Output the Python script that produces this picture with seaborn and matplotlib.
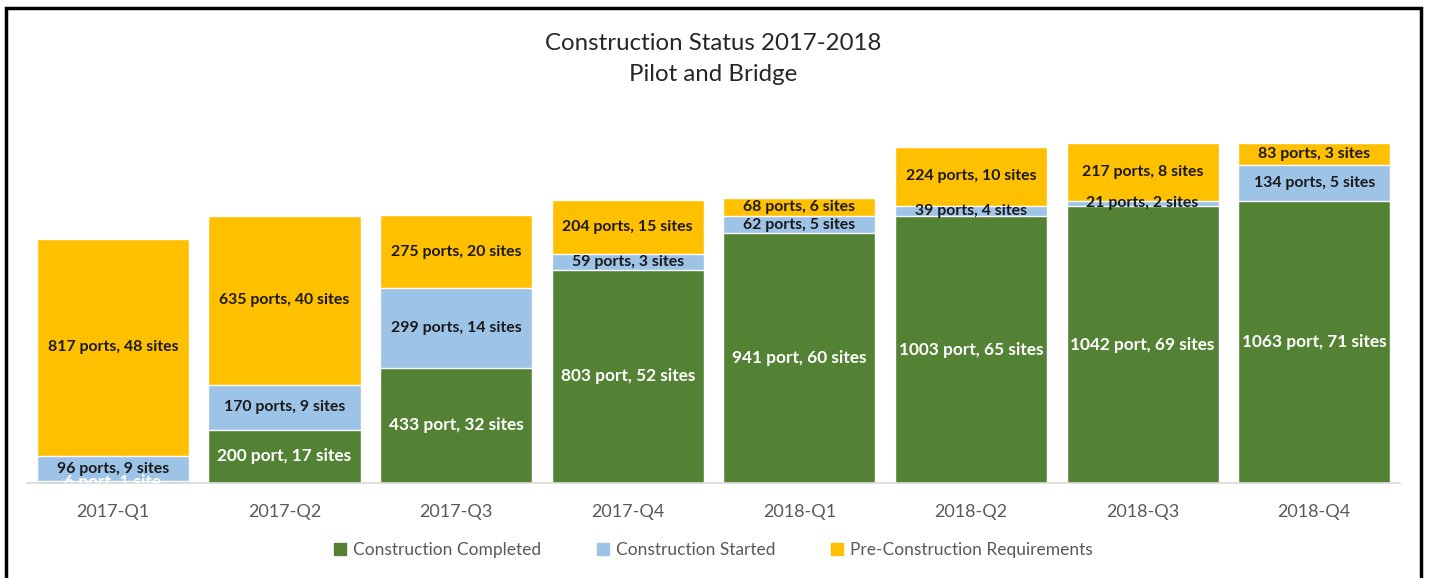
import seaborn as sns
import matplotlib.pyplot as plt
import matplotlib.patches as mpatches
import pandas as pd
import numpy as np

# Datos
quarters = ['2017-Q1', '2017-Q2', '2017-Q3', '2017-Q4', '2018-Q1', '2018-Q2', '2018-Q3', '2018-Q4']
completed_ports = [6, 200, 433, 803, 941, 1003, 1042, 1063]
completed_sites = [1, 17, 32, 52, 60, 65, 69, 71]
started_ports = [96, 170, 299, 59, 62, 39, 21, 134]
started_sites = [9, 9, 14, 3, 5, 4, 2, 5]
pre_ports = [817, 635, 275, 204, 68, 224, 217, 83]
pre_sites = [48, 40, 20, 15, 6, 10, 8, 3]

series = ['Construction Completed', 'Construction Started', 'Pre-Construction Requirements']
colores = ['#548235', '#9DC3E6', '#FFC000']

df = pd.DataFrame({'quarter': quarters,
                   'completed': completed_ports,
                   'started': started_ports,
                   'pre': pre_ports})
df['cum_started'] = df['completed'] + df['started']
df['total'] = df['cum_started'] + df['pre']

sns.set_style('white')
plt.rcParams['font.family'] = ['Lato', 'DejaVu Sans']

fig = plt.figure(figsize=(14.32, 5.78), dpi=100)
ax = fig.add_axes([0.0189, 0.1644, 0.9588, 0.6436])

# barras apiladas: primero el total, luego encima las capas inferiores
w = 0.886
sns.barplot(x='quarter', y='total', data=df, color=colores[2], width=w, saturation=1, ax=ax)
sns.barplot(x='quarter', y='cum_started', data=df, color=colores[1], width=w, saturation=1, ax=ax)
sns.barplot(x='quarter', y='completed', data=df, color=colores[0], width=w, saturation=1, ax=ax)

ax.set_ylim(0, 1400)
ax.set_xlim(-0.5, 7.5)
ax.set_xlabel('')
ax.set_ylabel('')
ax.set_yticks([])
for s in ['top', 'right', 'left']:
    ax.spines[s].set_visible(False)
ax.spines['bottom'].set_color('#D9D9D9')
ax.spines['bottom'].set_linewidth(1.2)
ax.tick_params(axis='x', length=0, pad=15, labelsize=13, labelcolor='#595959')

# etiquetas de cada segmento
for i in range(len(quarters)):
    site_txt = 'site' if completed_sites[i] == 1 else 'sites'
    ax.text(i, completed_ports[i] / 2, f'{completed_ports[i]} port, {completed_sites[i]} {site_txt}',
            ha='center', va='center', color='white', fontsize=12.4, fontweight='bold', clip_on=True)
    ax.text(i, completed_ports[i] + started_ports[i] / 2, f'{started_ports[i]} ports, {started_sites[i]} sites',
            ha='center', va='center', color='#1a1a1a', fontsize=11.4, fontweight='bold', clip_on=True)
    ax.text(i, completed_ports[i] + started_ports[i] + pre_ports[i] / 2, f'{pre_ports[i]} ports, {pre_sites[i]} sites',
            ha='center', va='center', color='#1a1a1a', fontsize=11.4, fontweight='bold', clip_on=True)

fig.suptitle('Construction Status 2017-2018\nPilot and Bridge', x=0.498, y=0.943, va='top',
             fontsize=17.3, color='#262626', linespacing=1.6)

handles = [mpatches.Patch(color=c, label=l) for c, l in zip(colores, series)]
fig.legend(handles=handles, loc='center', bbox_to_anchor=(0.498, 0.048), ncol=3, frameon=False,
           fontsize=12.5, labelcolor='#595959', handlelength=0.7, handleheight=0.7,
           handletextpad=0.4, columnspacing=3.2)

# marco negro alrededor del grafico
marco = mpatches.Rectangle((6 / 1432, -0.05), 1415 / 1432, 1.05 - 8 / 578, transform=fig.transFigure,
                           fill=False, edgecolor='black', linewidth=2.5)
fig.patches.append(marco)

fig.savefig('out.png', dpi=100)
